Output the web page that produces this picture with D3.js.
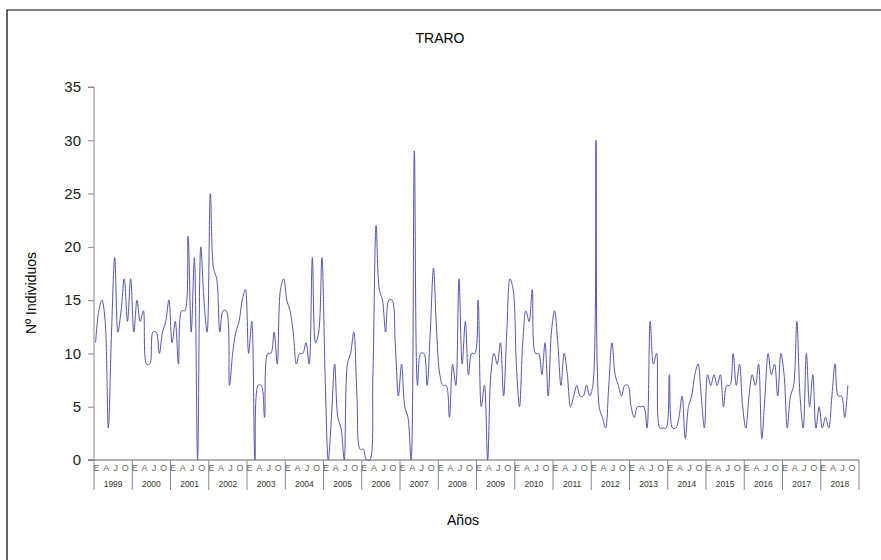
<!DOCTYPE html>
<html><head><meta charset="utf-8">
<script src="https://cdn.jsdelivr.net/npm/d3@7"></script>
<style>body{margin:0;background:#fff}</style></head>
<body><script>
const title = "TRARO";
const years = d3.range(1999, 2019);
const monthLabels = ["E","","","A","","","J","","","O","",""];
const values = [
11,14,15,13,3,12,19,12,14,17,13,17,
12,15,13,14,9,9,12,12,10,12,13,15,
11,13,9,14,14,21,12,19,0,20,15,12,
25,18,17,12,14,14,7,10,12,13,15,16,
10,13,0,7,7,4,10,10,12,9,16,17,
15,14,12,9,10,10,11,9,19,11,12,19,
8,0,4,9,4,3,0,9,10,12,6,1,
1,0,0,8,22,16,15,12,15,15,11,6,
9,5,4,0,29,7,10,10,7,12,18,12,
8,7,7,4,9,7,17,9,13,8,10,10,
15,5,7,0,8,10,9,11,6,12,17,16,
9,5,11,14,13,16,10,10,8,11,6,12,
14,11,7,10,8,5,6,7,6,6,7,6,
7,30,5,4,3,7,11,8,7,6,7,7,
5,4,5,5,5,3,13,9,10,3,3,3,
8,3,3,4,6,2,5,6,8,9,6,3,
8,7,8,7,8,5,7,7,10,7,9,5,
3,6,8,7,9,2,6,10,8,9,6,10,
8,3,6,7,13,6,3,10,5,8,3,5,
3,4,3,6,9,6,6,4,7
];
const W=881,H=560, L=94, R=859, T=87, B=460;
const svg=d3.select("body").append("svg").attr("width",W).attr("height",H).style("font-family","Arial, 'Liberation Sans', sans-serif");
svg.append("path").attr("d",`M7,${H} V10 H${W}`).attr("fill","none").attr("stroke","#000").attr("stroke-width",1.2);
svg.append("text").attr("x",440).attr("y",43).attr("text-anchor","middle").attr("font-size",14).text(title);
const months = years.length*12;
const x=d3.scaleBand().domain(d3.range(months)).range([L,R]);
const y=d3.scaleLinear().domain([0,35]).range([B,T]);
const ya=svg.append("g").attr("transform",`translate(${L},0)`).call(d3.axisLeft(y).ticks(7).tickSize(6).tickPadding(7));
ya.selectAll("text").attr("font-size",15).attr("fill","#222").style("font-family","Arial, 'Liberation Sans', sans-serif");
ya.selectAll("line,path").attr("stroke","#888");
ya.select(".domain").attr("d",`M-6,${T}H0V${B}H-6`);
svg.append("line").attr("x1",L-6).attr("x2",R).attr("y1",B).attr("y2",B).attr("stroke","#666");
const g=svg.append("g");
years.forEach((yr,i)=>{
  const x0=x(i*12);
  g.append("line").attr("x1",x0).attr("x2",x0).attr("y1",B).attr("y2",490).attr("stroke","#888");
  monthLabels.forEach((m,j)=>{ if(m) g.append("text").attr("x",x(i*12+j)+x.bandwidth()/2+1).attr("y",471).attr("text-anchor","middle").attr("font-size",9).attr("fill","#666").text(m);});
  g.append("text").attr("x",x0+x.bandwidth()*6).attr("y",487).attr("text-anchor","middle").attr("font-size",8.5).attr("fill","#333").text(yr);
});
g.append("line").attr("x1",R).attr("x2",R).attr("y1",B).attr("y2",490).attr("stroke","#888");
const line=d3.line().x((d,i)=>x(i)+x.bandwidth()/2).y(d=>y(d)).curve(d3.curveCatmullRom.alpha(0.5));
svg.append("path").datum(values).attr("d",line).attr("fill","none").attr("stroke","#5555b0").attr("stroke-width",1);
svg.append("text").attr("transform","translate(36,293) rotate(-90)").attr("text-anchor","middle").attr("font-size",14).text("Nº Individuos");
svg.append("text").attr("x",463).attr("y",525).attr("text-anchor","middle").attr("font-size",14).text("Años");
</script></body></html>
